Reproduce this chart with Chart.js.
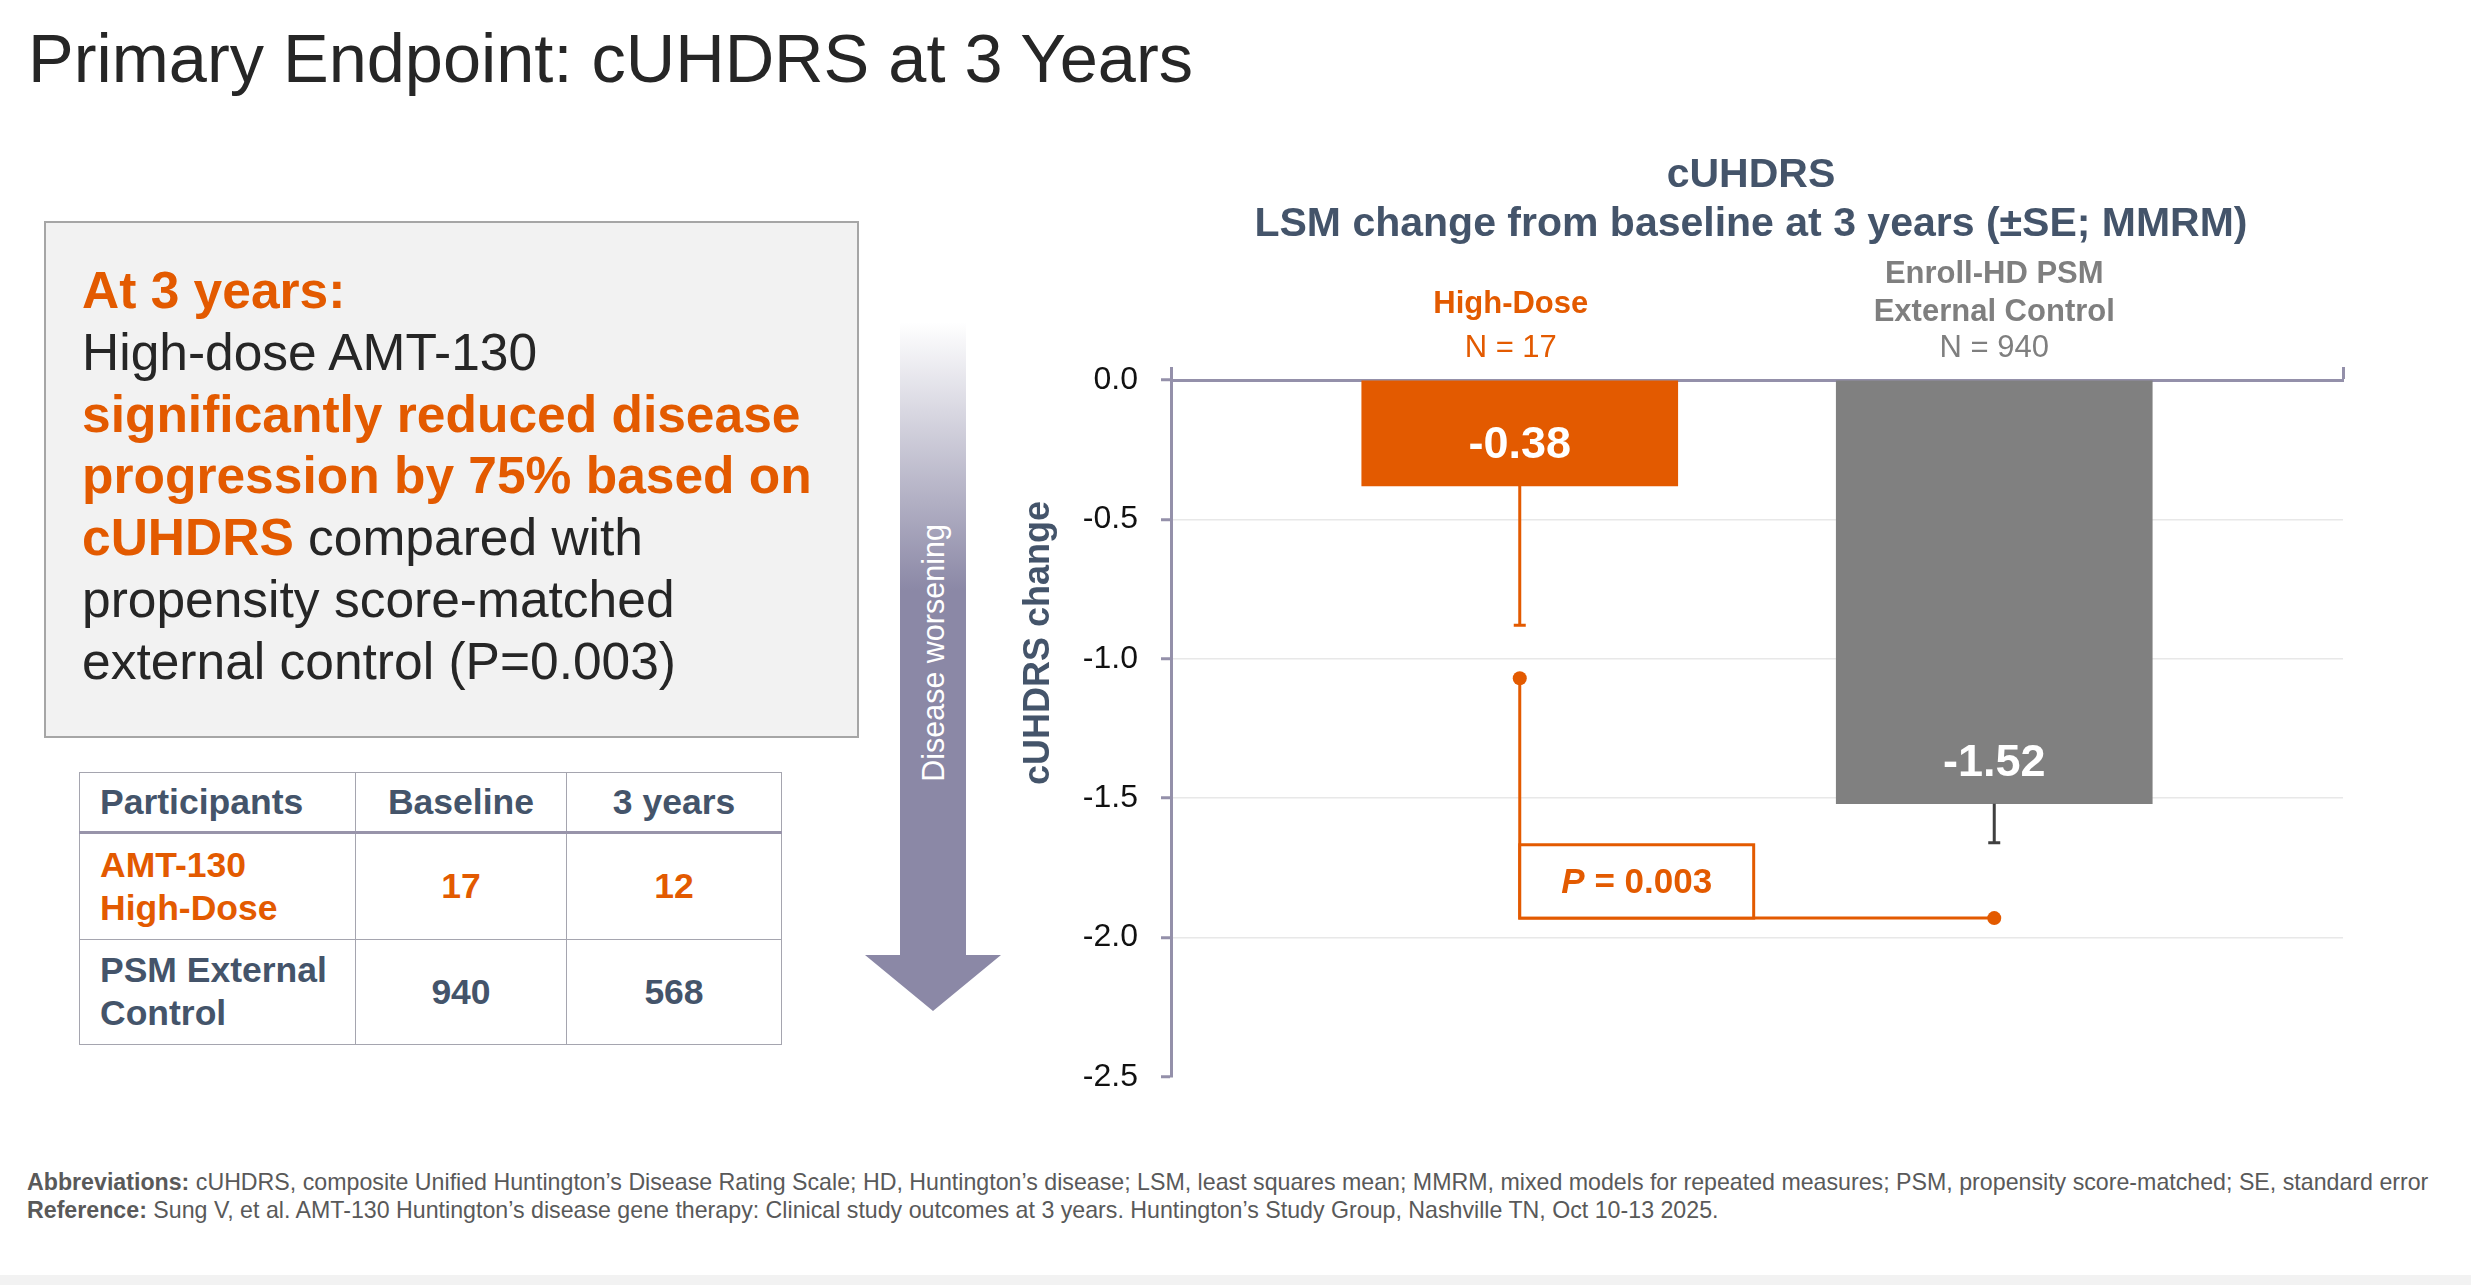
<!DOCTYPE html>
<html>
<head>
<meta charset="utf-8">
<script src="https://cdn.jsdelivr.net/npm/chart.js@4.4.1/dist/chart.umd.min.js"></script>
<style>
    body { margin: 0; width: 2471px; height: 1285px; position: relative; overflow: hidden; background: #fff;
           font-family: "Liberation Sans", Arial, sans-serif; }
    .abs { position: absolute; white-space: nowrap; }
    #title { left: 28px; top: 24px; font-size: 68.5px; line-height: 69px; color: #262626; }
    #keybox { left: 44px; top: 221px; width: 811px; height: 513px; background: #F2F2F2; border: 2px solid #A6A6A6; }
    #keytext { left: 82px; top: 260px; font-size: 51.5px; line-height: 61.8px; color: #262626; }
    .or { color: #E35A00; font-weight: bold; }
    #counts { left: 79px; top: 772px; border-collapse: collapse; table-layout: fixed; font-weight: bold; font-size: 35.5px; color: #44546A; }
    #counts td { border: 1.5px solid #A5A5AF; text-align: center; vertical-align: middle; padding: 0; line-height: 43px; }
    #counts td.lab { text-align: left; padding-left: 20px; }
    #counts tr.head td { border-bottom: 3px solid #9894AA; height: 58px; }
    #counts .orange { color: #E35A00; }
    #foot { left: 27px; top: 1168px; font-size: 23.2px; line-height: 28px; color: #595959; }
    #strip { left: 0; top: 1275px; width: 2471px; height: 10px; background: #F2F2F2; }
    #chartbox { left: 960px; top: 102px; width: 1480px; height: 1010px; }
</style>
</head>
<body>
<div class="abs" id="title">Primary Endpoint: cUHDRS at 3 Years</div>

<div class="abs" id="keybox"></div>
<div class="abs" id="keytext"><span class="or">At 3 years:</span><br>High-dose AMT-130<br><span class="or">significantly reduced disease</span><br><span class="or">progression by 75% based on</span><br><span class="or">cUHDRS</span> compared with<br>propensity score-matched<br>external control (P=0.003)</div>

<table class="abs" id="counts">
    <colgroup><col style="width:276px"><col style="width:211px"><col style="width:215px"></colgroup>
    <tr class="head"><td class="lab">Participants</td><td>Baseline</td><td>3 years</td></tr>
    <tr style="height:107px" class="orange"><td class="lab">AMT-130<br>High-Dose</td><td>17</td><td>12</td></tr>
    <tr style="height:105px"><td class="lab">PSM External<br>Control</td><td>940</td><td>568</td></tr>
</table>

<svg class="abs" style="left:860px; top:318px" width="150" height="700">
    <defs>
        <linearGradient id="fade" x1="0" y1="0" x2="0" y2="1" gradientUnits="objectBoundingBox">
            <stop offset="0" stop-color="#8B88A6" stop-opacity="0"/>
            <stop offset="0.39" stop-color="#8B88A6" stop-opacity="1"/>
            <stop offset="1" stop-color="#8B88A6" stop-opacity="1"/>
        </linearGradient>
    </defs>
    <polygon points="40,4 106,4 106,637 141,637 73,693 5,637 40,637" fill="url(#fade)"/>
    <text transform="translate(84,335) rotate(-90)" text-anchor="middle" fill="#fff"
          font-family="Liberation Sans, Arial, sans-serif" font-size="30.5">Disease worsening</text>
</svg>

<div class="abs" id="chartbox"><canvas id="myChart"></canvas></div>

<div class="abs" id="foot"><b>Abbreviations:</b> cUHDRS, composite Unified Huntington’s Disease Rating Scale; HD, Huntington’s disease; LSM, least squares mean; MMRM, mixed models for repeated measures; PSM, propensity score-matched; SE, standard error<br><b>Reference:</b> Sung V, et al. AMT-130 Huntington’s disease gene therapy: Clinical study outcomes at 3 years. Huntington’s Study Group, Nashville TN, Oct 10-13 2025.</div>
<div class="abs" id="strip"></div>

<script>
const groupX        = [1, 2];
const groupHeadings = [['High-Dose'], ['Enroll-HD PSM', 'External Control']];
const sampleSizes   = [17, 940];
const lsmChange     = [-0.38, -1.52];
const standardError = [0.50, 0.14];
const yTickStep     = 0.5;
const yRange        = [-2.5, 0];
// p-value bracket: from the high-dose SE tip region down, then across to the control arm
const bracketPoints = [
    { x: 1, y: -1.07 },
    { x: 1, y: -1.93 },
    { x: 2, y: -1.93 }
];
const pValueText = '0.003';

const ORANGE = '#E35A00';
const GREY   = '#808080';
const SLATE  = '#44546A';
const AXIS   = '#9490AA';
const FONT   = '"Liberation Sans", Arial, sans-serif';

const barColors   = [ORANGE, GREY];
const errorColors = [ORANGE, '#404040'];
const headColors  = [ORANGE, '#7F7F7F'];
const headShift   = [-9, 0];

const extras = {
    id: 'extras',
    afterDatasetsDraw(chart) {
        const { ctx, scales: { x, y } } = chart;
        ctx.save();

        lsmChange.forEach((v, i) => {
            const px = x.getPixelForValue(groupX[i]);
            const y1 = y.getPixelForValue(v);
            const y2 = y.getPixelForValue(v - standardError[i]);
            ctx.strokeStyle = errorColors[i];
            ctx.lineWidth = 3;
            ctx.beginPath();
            ctx.moveTo(px, y1);
            ctx.lineTo(px, y2);
            ctx.moveTo(px - 6, y2);
            ctx.lineTo(px + 6, y2);
            ctx.stroke();

            ctx.fillStyle = '#fff';
            ctx.font = 'bold 45px ' + FONT;
            ctx.textAlign = 'center';
            ctx.textBaseline = 'middle';
            ctx.fillText(v.toFixed(2), px, y1 - 40);
        });

        // P value box sitting on the bracket corner
        const bx1 = x.getPixelForValue(1);
        const bx2 = x.getPixelForValue(1.493);
        const by1 = y.getPixelForValue(-1.667);
        const by2 = y.getPixelForValue(bracketPoints[1].y);
        ctx.fillStyle = '#fff';
        ctx.fillRect(bx1, by1, bx2 - bx1, by2 - by1);
        ctx.strokeStyle = ORANGE;
        ctx.lineWidth = 3;
        ctx.strokeRect(bx1, by1, bx2 - bx1, by2 - by1);

        const italicP = 'italic bold 35px ' + FONT;
        const plain   = 'bold 35px ' + FONT;
        ctx.font = italicP;
        const wP = ctx.measureText('P').width;
        ctx.font = plain;
        const rest = ' = ' + pValueText;
        const wR = ctx.measureText(rest).width;
        let tx = (bx1 + bx2) / 2 - (wP + wR) / 2;
        const ty = (by1 + by2) / 2 + 12;
        ctx.fillStyle = ORANGE;
        ctx.textAlign = 'left';
        ctx.textBaseline = 'alphabetic';
        ctx.font = italicP;
        ctx.fillText('P', tx, ty);
        ctx.font = plain;
        ctx.fillText(rest, tx + wP, ty);
        ctx.restore();
    },
    afterDraw(chart) {
        const { ctx, scales: { x } } = chart;
        ctx.save();
        ctx.textAlign = 'center';
        ctx.textBaseline = 'middle';

        ctx.fillStyle = SLATE;
        ctx.font = 'bold 41px ' + FONT;
        ctx.fillText('cUHDRS', 791, 74);
        ctx.fillText('LSM change from baseline at 3 years (±SE; MMRM)', 791, 123);

        groupHeadings.forEach((lines, i) => {
            const px = x.getPixelForValue(groupX[i]) + headShift[i];
            ctx.fillStyle = headColors[i];
            ctx.font = 'bold 31px ' + FONT;
            if (lines.length === 1) {
                ctx.fillText(lines[0], px, 202);
            } else {
                ctx.fillText(lines[0], px, 172);
                ctx.fillText(lines[1], px, 210);
            }
            ctx.font = '31px ' + FONT;
            ctx.fillText('N = ' + sampleSizes[i], px, 246);
        });

        ctx.translate(89, 541);
        ctx.rotate(-Math.PI / 2);
        ctx.fillStyle = SLATE;
        ctx.font = 'bold 36px ' + FONT;
        ctx.textBaseline = 'alphabetic';
        ctx.fillText('cUHDRS change', 0, 0);
        ctx.restore();
    }
};

Chart.defaults.font.family = FONT;

new Chart(document.getElementById('myChart'), {
    data: {
        datasets: [{
            type: 'bar',
            data: lsmChange.map((v, i) => ({ x: groupX[i], y: v })),
            backgroundColor: barColors,
            barThickness: 316,
            order: 2
        }, {
            type: 'line',
            data: bracketPoints,
            borderColor: ORANGE,
            borderWidth: 3,
            tension: 0,
            fill: false,
            pointRadius: [7, 0, 7],
            pointBackgroundColor: ORANGE,
            pointBorderWidth: 0,
            order: 1
        }]
    },
    options: {
        responsive: true,
        maintainAspectRatio: false,
        animation: false,
        events: [],
        layout: { padding: { top: 265, right: 97, bottom: 35, left: 0 } },
        plugins: {
            legend: { display: false },
            tooltip: { enabled: false }
        },
        scales: {
            x: {
                type: 'linear',
                position: 'top',
                min: 0.265,
                max: 2.735,
                offset: false,
                z: 1,
                grid: { offset: false, drawOnChartArea: false, tickLength: 13, tickColor: AXIS, tickWidth: 3 },
                border: { color: AXIS, width: 3 },
                ticks: { display: false },
                afterBuildTicks: (s) => { s.ticks = [{ value: s.min }, { value: s.max }]; },
                afterFit: (s) => { s.height = 13; s.paddingLeft = 0; s.paddingRight = 0; }
            },
            y: {
                min: yRange[0],
                max: yRange[1],
                ticks: {
                    stepSize: yTickStep,
                    padding: 23,
                    color: '#111111',
                    font: { size: 32 },
                    callback: (v) => v.toFixed(1)
                },
                grid: {
                    color: (c) => (c.tick && (c.tick.value === 0 || c.tick.value === yRange[0])) ? 'rgba(0,0,0,0)' : '#E8E8E8',
                    lineWidth: 1.5,
                    tickLength: 10,
                    tickColor: AXIS,
                    tickWidth: 3
                },
                border: { color: AXIS, width: 3 },
                afterFit: (s) => { s.width = 211; s.paddingTop = 0; s.paddingBottom = 0; }
            }
        }
    },
    plugins: [extras]
});
</script>
</body>
</html>
